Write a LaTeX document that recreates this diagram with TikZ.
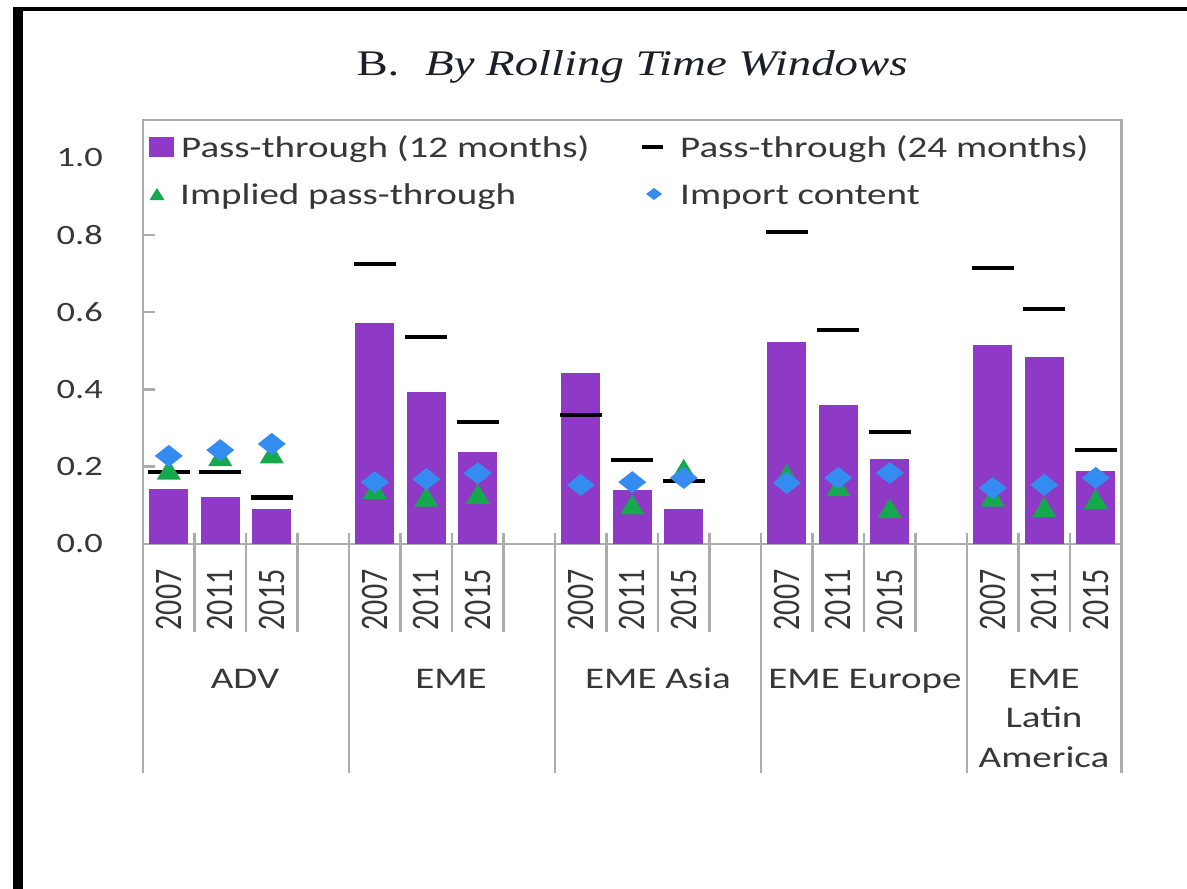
\documentclass[tikz,border=0pt]{standalone}
\usepackage{fontspec}
\usepackage{graphicx}
\newfontfamily\chartfont{Carlito}
\newfontfamily\titlefont{Liberation Serif}
\definecolor{barpurple}{RGB}{142,58,198}
\definecolor{trigreen}{RGB}{22,168,76}
\definecolor{diablue}{RGB}{52,140,240}
\definecolor{axisgray}{RGB}{172,172,172}
\definecolor{labelgray}{RGB}{55,55,55}
\definecolor{titlecol}{RGB}{30,30,40}
\newcommand{\hstretch}[1]{\scalebox{1.3}[1]{#1}}
\newcommand{\vstretch}[1]{\scalebox{1}[1.3]{#1}}
\tikzset{
  axisline/.style={draw=axisgray, line width=2.5pt},
  lbl/.style={text=labelgray, inner sep=0pt, font=\chartfont\fontsize{30}{40}\selectfont},
  ticklbl/.style={text=labelgray, inner sep=0pt, font=\chartfont\fontsize{28}{34}\selectfont},
  dashmark/.style={draw=black, line width=4.5pt},
}
\begin{document}
\begin{tikzpicture}[x=1pt,y=-1pt]
\useasboundingbox (0,0) rectangle (1187,889);
\fill[white] (0,0) rectangle (1187,889);
% image border
\fill[black] (13,7) rectangle (1187,10.5);
\fill[black] (13,7) rectangle (23,889);

% title
\node[anchor=base, inner sep=0pt, text=titlecol, font=\titlefont\fontsize{36}{40}\selectfont] (title) at (632,75)
  {\hstretch{B.\hspace{0.55em}\textit{By Rolling Time Windows}}};

% plot frame
\draw[axisline] (143,120) rectangle (1121.5,544);
% category boundary ticks and separators
\foreach \k in {1,2,3,5,6,7,9,10,11,13,14,15,17,18}{
  \draw[axisline] ({143+51.5*\k},533) -- ({143+51.5*\k},632);
}
\foreach \k in {0,4,8,12,16,19}{
  \draw[axisline] ({143+51.5*\k},533) -- ({143+51.5*\k},773);
}
% y ticks
\foreach \v in {0.2,0.4,0.6,0.8}{
  \draw[axisline] (143,{544-386.5*\v}) -- (155,{544-386.5*\v});
}
% y tick labels
\foreach \v/\t in {0/0.0,1/0.2,2/0.4,3/0.6,4/0.8,5/1.0}{
  \node[ticklbl, anchor=east] (ylab-\v) at (103,{544-77.3*\v}) {\hstretch{\t}};
}

% data
\begin{scope}[yshift=-544pt, y=386.5pt]
\foreach \k/\bv/\dv in {0/0.142/0.186, 1/0.122/0.186, 2/0.090/0.120,
                        4/0.571/0.724, 5/0.393/0.535, 6/0.238/0.316,
                        8/0.442/0.334, 9/0.140/0.217, 10/0.090/0.163,
                        12/0.523/0.807, 13/0.360/0.554, 14/0.220/0.290,
                        16/0.515/0.714, 17/0.484/0.608, 18/0.189/0.243}{
  \pgfmathsetmacro\xc{143+51.5*(\k+0.5)}
  \fill[barpurple] (\xc-19.5,0) rectangle (\xc+19.5,\bv);
}
\foreach \k/\bv/\dv in {0/0.142/0.186, 1/0.122/0.186, 2/0.090/0.120,
                        4/0.571/0.724, 5/0.393/0.535, 6/0.238/0.316,
                        8/0.442/0.334, 9/0.140/0.217, 10/0.090/0.163,
                        12/0.523/0.807, 13/0.360/0.554, 14/0.220/0.290,
                        16/0.515/0.714, 17/0.484/0.608, 18/0.189/0.243}{
  \pgfmathsetmacro\xc{143+51.5*(\k+0.5)}
  \draw[dashmark] (\xc-21,\dv) -- (\xc+21,\dv);
}
\foreach \k/\tv in {0/0.19, 1/0.225, 2/0.232, 4/0.14, 5/0.12, 6/0.127,
                    9/0.10, 10/0.192, 12/0.178, 13/0.147, 14/0.09,
                    16/0.12, 17/0.093, 18/0.114}{
  \pgfmathsetmacro\xc{143+51.5*(\k+0.5)}
  \fill[trigreen] (\xc,\tv) ++(0pt,11pt) -- ++(-12pt,-20pt) -- ++(24pt,0pt) -- cycle;
}
\foreach \k/\mv in {0/0.228, 1/0.243, 2/0.259, 4/0.16, 5/0.168, 6/0.183,
                    8/0.153, 9/0.16, 10/0.171, 12/0.158, 13/0.171, 14/0.184,
                    16/0.145, 17/0.153, 18/0.171}{
  \pgfmathsetmacro\xc{143+51.5*(\k+0.5)}
  \fill[diablue] (\xc,\mv) ++(-14pt,0pt) -- ++(14pt,11pt) -- ++(14pt,-11pt) -- ++(-14pt,-11pt) -- cycle;
}
\end{scope}

% year labels
\foreach \g in {0,1,2,3,4}{
  \foreach \j/\yr in {0/2007,1/2011,2/2015}{
    \node[lbl, rotate=90] (yr-\g-\j) at ({143+51.5*(4*\g+\j+0.5)},600) {\vstretch{\yr}};
  }
}

% category labels
\node[lbl, anchor=base] (cat-adv) at (245,688) {\hstretch{ADV}};
\node[lbl, anchor=base] (cat-eme) at (451,688) {\hstretch{EME}};
\node[lbl, anchor=base] (cat-asia) at (658,688) {\hstretch{EME Asia}};
\node[lbl, anchor=base] (cat-eur) at (865,688) {\hstretch{EME Europe}};
\node[lbl, anchor=base] (cat-lat1) at (1044,688) {\hstretch{EME}};
\node[lbl, anchor=base] (cat-lat2) at (1044,727) {\hstretch{Latin}};
\node[lbl, anchor=base] (cat-lat3) at (1044,767) {\hstretch{America}};

% legend
\fill[barpurple] (149,137) rectangle (174,157);
\node[lbl, anchor=base west] (leg1) at (181,157) {\hstretch{Pass-through (12 months)}};
\draw[dashmark] (642,147) -- (663,147);
\node[lbl, anchor=base west] (leg2) at (680,157) {\hstretch{Pass-through (24 months)}};
\fill[trigreen] (157,188) -- (164.5,200) -- (149.5,200) -- cycle;
\node[lbl, anchor=base west] (leg3) at (180,204) {\hstretch{Implied pass-through}};
\fill[diablue] (646,194) -- (654,188) -- (662,194) -- (654,200) -- cycle;
\node[lbl, anchor=base west] (leg4) at (680,204) {\hstretch{Import content}};
\end{tikzpicture}
\end{document}
